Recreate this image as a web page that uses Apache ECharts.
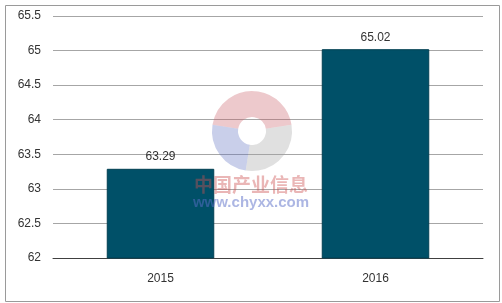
<!DOCTYPE html>
<html><head><meta charset="utf-8">
<script src="https://cdn.jsdelivr.net/npm/echarts@6/dist/echarts.min.js"></script>
<style>html,body{margin:0;padding:0;background:#fff}#c{width:502px;height:303px}</style>
</head><body><div id="c"></div>
<script>
const categories = ['2015', '2016'];
const values = [63.29, 65.02];
const yMin = 62, yMax = 65.5, yStep = 0.5;

const chart = echarts.init(document.getElementById('c'));
chart.setOption({
  animation: false,
  backgroundColor: '#fff',
  grid: { left: 53, right: 19, top: 16, bottom: 45 },
  xAxis: {
    type: 'category', data: categories,
    axisLine: { lineStyle: { color: '#404040', width: 1 } },
    axisTick: { show: false },
    axisLabel: { color: '#333', fontFamily: 'Liberation Sans, Arial', fontSize: 12, margin: 15 }
  },
  yAxis: {
    type: 'value', min: yMin, max: yMax, interval: yStep,
    axisLine: { show: false }, axisTick: { show: false },
    splitLine: { lineStyle: { color: '#a6a6a6', width: 1 } },
    axisLabel: { color: '#333', fontFamily: 'Liberation Sans, Arial', fontSize: 12, margin: 12,
      formatter: v => String(+v.toFixed(1)) }
  },
  series: [{
    type: 'bar', data: values, barWidth: '50%',
    itemStyle: { color: '#005068', borderColor: '#003f52', borderWidth: 1 },
    label: { show: true, position: 'top', distance: 6, color: '#333',
      fontFamily: 'Liberation Sans, Arial', fontSize: 12, formatter: p => p.value.toFixed(2) }
  }],
  graphic: [
    { type: 'rect', left: 3, top: 3, shape: { width: 494, height: 296 },
      style: { fill: 'none', stroke: '#9a9a9a', lineWidth: 1 }, silent: true },
    { type: 'arc', silent: true, zlevel: 1, shape: { cx: 252, cy: 131, r: 27, startAngle: Math.PI*1.05, endAngle: Math.PI*1.95 },
      style: { stroke: 'rgba(200,90,100,0.33)', lineWidth: 26, fill: 'none' } },
    { type: 'arc', silent: true, zlevel: 1, shape: { cx: 252, cy: 131, r: 27, startAngle: Math.PI*0.55, endAngle: Math.PI*1.05 },
      style: { stroke: 'rgba(90,110,190,0.33)', lineWidth: 26, fill: 'none' } },
    { type: 'arc', silent: true, zlevel: 1, shape: { cx: 252, cy: 131, r: 27, startAngle: Math.PI*1.95, endAngle: Math.PI*2.55 },
      style: { stroke: 'rgba(160,160,160,0.33)', lineWidth: 26, fill: 'none' } },
    { type: 'text', silent: true, zlevel: 1, x: 251, y: 185, style: { text: '中国产业信息', fill: 'rgba(205,80,80,0.42)',
      font: 'bold 19px "Noto Sans CJK SC"', align: 'center', verticalAlign: 'middle' } },
    { type: 'text', silent: true, zlevel: 1, x: 251, y: 203, style: { text: 'www.chyxx.com', fill: 'rgba(90,110,200,0.5)',
      font: 'bold 15px "Liberation Sans", Arial', align: 'center', verticalAlign: 'middle' } }
  ]
});
</script></body></html>
